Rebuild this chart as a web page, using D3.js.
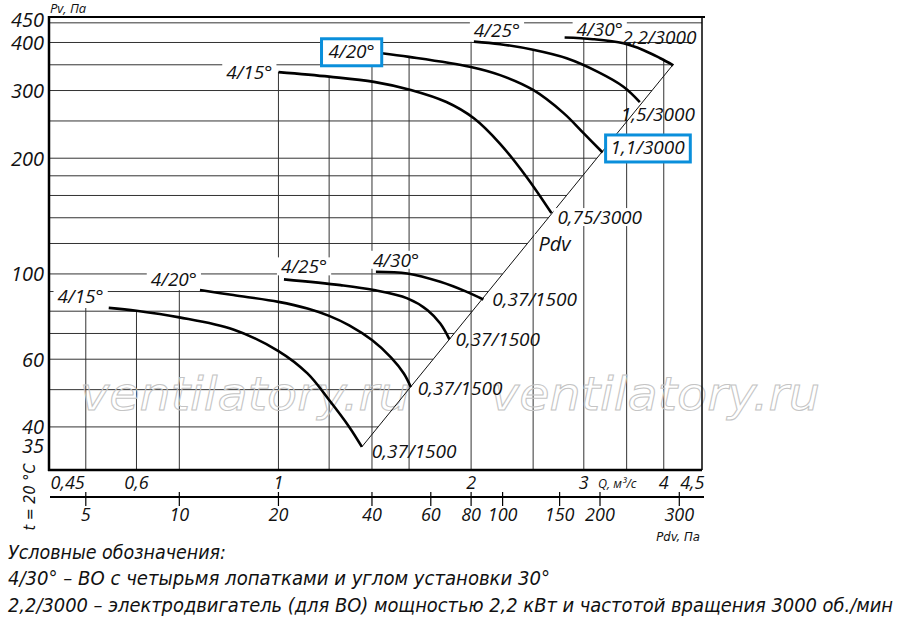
<!DOCTYPE html>
<html>
<head>
<meta charset="utf-8">
<script src="https://d3js.org/d3.v7.min.js"></script>
<style>
    body { margin: 0; background: #fff; }
    text { font-family: "Open Sans", "Noto Sans", sans-serif; font-style: italic; fill: #111; }
    .narrow { font-family: "Liberation Sans Narrow", "DejaVu Sans Condensed", "Liberation Sans", sans-serif; }
</style>
</head>
<body>
<div class="chart"></div>
<script>
// границы осей (Q, м3/с и Pv, Па)
var qDomain = [0.438, 4.59];
var pDomain = [30.9, 466];

// сетка и подписи осей
var gridQ = [0.5, 0.6, 0.7, 1.0, 1.2, 1.4, 1.6, 2.0, 2.5, 3.0, 3.5, 4.0];
var gridP = [40, 50, 60, 70, 80, 90, 100, 120, 140, 160, 180, 200, 250, 300, 350, 400, 450];
var pTicks = [450, 400, 300, 200, 100, 60, 40, 35];
var qTicks = [0.45, 0.6, 1, 2, 3, 4, 4.5];
var qTickText = ["0,45", "0,6", "1", "2", "3", "4", "4,5"];
var pdvTicks = [5, 10, 20, 40, 60, 80, 100, 150, 200, 300];
var pdvTickQ = [0.5, 0.7, 1.0, 1.4, 1.73, 2.0, 2.24, 2.75, 3.18, 4.23]; // где стоит отметка Pdv на шкале Q

// 3000 об/мин
var hi15Q = [1.0, 1.2, 1.41, 1.61, 1.83, 2.02, 2.22, 2.44, 2.67];
var hi15P = [335, 326, 316, 301, 280, 254, 218, 179, 144];
var hi20Q = [1.45, 1.6, 1.99, 2.22, 2.5, 2.79, 3.0, 3.21];
var hi20P = [375, 367, 346, 329, 301, 262, 232, 207];
var hi25Q = [2.02, 2.22, 2.5, 2.82, 3.15, 3.46, 3.67];
var hi25P = [402, 396, 383, 364, 336, 307, 280];
var hi30Q = [2.8, 3.1, 3.46, 3.72, 3.95, 4.14];
var hi30P = [412, 408, 398, 382, 364, 349];

// 1500 об/мин
var lo15Q = [0.543, 0.6, 0.7, 0.85, 1.0, 1.11, 1.2, 1.29, 1.35];
var lo15P = [81.6, 80.2, 77.1, 71.7, 63, 55.1, 47, 40, 35.5];
var lo20Q = [0.754, 0.85, 1.0, 1.11, 1.2, 1.29, 1.4, 1.5, 1.57, 1.61];
var lo20P = [90.8, 88.1, 84.6, 81.3, 77.8, 73.5, 67.3, 60.6, 55.1, 50.8];
var lo25Q = [1.02, 1.25, 1.41, 1.59, 1.71, 1.79, 1.85];
var lo25P = [96.8, 93.5, 90.8, 86.4, 80.5, 74.3, 67.6];
var lo30Q = [1.42, 1.59, 1.79, 1.97, 2.09];
var lo30P = [101.3, 100.3, 95.4, 89.8, 85.8];

// линия динамического давления Pdv
var diagQ = [1.35, 4.14];
var diagP = [35.5, 351];
var pdvLabelP = 120;

var angleNames = ["4/15°", "4/20°", "4/25°", "4/30°"];
var motorsHi = ["0,75/3000", "1,1/3000", "1,5/3000", "2,2/3000"];
var motorsLo = ["0,37/1500", "0,37/1500", "0,37/1500", "0,37/1500"];

var legend = [
    "Условные обозначения:",
    "4/30° – ВО с четырьмя лопатками и углом установки 30°",
    "2,2/3000 – электродвигатель (для ВО) мощностью 2,2 кВт и частотой вращения 3000 об./мин"
];

function zip(q, p) { return q.map(function(v, i) { return [v, p[i]]; }); }
var curvesHi = [zip(hi15Q, hi15P), zip(hi20Q, hi20P), zip(hi25Q, hi25P), zip(hi30Q, hi30P)];
var curvesLo = [zip(lo15Q, lo15P), zip(lo20Q, lo20P), zip(lo25Q, lo25P), zip(lo30Q, lo30P)];
var allCurves = curvesHi.concat(curvesLo);

var W = 900, H = 624;
var L = 49, R = 702, T = 17, B = 470;
var blue = "#0a8fdb";

var x = d3.scaleLog().domain(qDomain).range([L, R]);
var y = d3.scaleLog().domain(pDomain).range([B, T]);

var svg = d3.select("div.chart").append("svg")
    .attr("width", W).attr("height", H);

// прямая Pdv в пикселях: y -> x
var diagX = d3.scaleLinear()
    .domain([y(diagP[0]), y(diagP[1])])
    .range([x(diagQ[0]), x(diagQ[1])]);

// область под кривыми - по ней обрезаются вертикальные линии сетки
var area = d3.area()
    .x(function(d) { return x(d[0]); })
    .y0(B)
    .y1(function(d) { return y(d[1]); })
    .curve(d3.curveCatmullRom);
var clip = svg.append("defs").append("clipPath").attr("id", "vclip");
allCurves.forEach(function(c) {
    clip.append("path").attr("d", area(c));
    clip.append("rect")
        .attr("x", x(c[0][0] - 0.06))
        .attr("y", y(c[0][1]))
        .attr("width", x(c[0][0]) - x(c[0][0] - 0.06) + 1)
        .attr("height", B - y(c[0][1]));
});

var gGrid = svg.append("g");
var gMark = svg.append("g");
var gDiag = svg.append("g");
var gBg = svg.append("g");
var gCurve = svg.append("g");
var gText = svg.append("g");

gGrid.selectAll("line.h").data(gridP).enter().append("line")
    .attr("class", "h")
    .attr("x1", L)
    .attr("x2", function(d) { return Math.min(R, diagX(y(d))); })
    .attr("y1", function(d) { return y(d); })
    .attr("y2", function(d) { return y(d); })
    .attr("stroke", "#333").attr("stroke-width", 1);

gGrid.append("g").attr("clip-path", "url(#vclip)")
    .selectAll("line").data(gridQ).enter().append("line")
    .attr("x1", function(d) { return x(d); })
    .attr("x2", function(d) { return x(d); })
    .attr("y1", T).attr("y2", B)
    .attr("stroke", "#333").attr("stroke-width", 1);

// водяной знак
[80, 490].forEach(function(px) {
    gMark.append("text")
        .attr("x", px).attr("y", 410)
        .attr("textLength", 330).attr("lengthAdjust", "spacingAndGlyphs")
        .style("font-family", "'DejaVu Sans', sans-serif")
        .style("font-size", "46px")
        .style("fill", "none")
        .attr("stroke", "#c4c4c4").attr("stroke-width", 1)
        .text("ventilatory.ru");
});

gDiag.append("line")
    .attr("x1", x(diagQ[0])).attr("y1", y(diagP[0]))
    .attr("x2", x(diagQ[1])).attr("y2", y(diagP[1]))
    .attr("stroke", "#111").attr("stroke-width", 1);

var line = d3.line()
    .x(function(d) { return x(d[0]); })
    .y(function(d) { return y(d[1]); })
    .curve(d3.curveCatmullRom);

gCurve.selectAll("path").data(allCurves).enter().append("path")
    .attr("d", line)
    .attr("fill", "none")
    .attr("stroke", "#000")
    .attr("stroke-width", 2.6);

// подпись у точки; bg - белая подложка, box - синяя рамка
function label(px, py, txt, anchor, size, opt) {
    opt = opt || {};
    var t = gText.append("text")
        .attr("x", px).attr("y", py)
        .attr("text-anchor", anchor)
        .attr("dominant-baseline", "central")
        .style("font-size", size + "px")
        .text(txt);
    var b = t.node().getBBox();
    if (opt.bg) {
        gBg.append("rect")
            .attr("x", b.x - 4).attr("y", b.y + 4)
            .attr("width", b.width + 8).attr("height", b.height - 8)
            .attr("fill", "#fff");
    }
    if (opt.box) {
        gText.insert("rect", "text")
            .attr("x", b.x - opt.box).attr("y", b.y + 0.5)
            .attr("width", b.width + 2 * opt.box).attr("height", b.height + 1)
            .attr("fill", "#fff")
            .attr("stroke", blue).attr("stroke-width", 3);
    }
    return t;
}

function first(c) { return [x(c[0][0]), y(c[0][1])]; }
function last(c) { var d = c[c.length - 1]; return [x(d[0]), y(d[1])]; }

// 3000 об/мин: углы
var s;
s = first(curvesHi[0]); label(s[0] - 6, s[1], angleNames[0], "end", 19, {bg: true});
s = first(curvesHi[1]); label(s[0] - 7, s[1] - 2, angleNames[1], "end", 19, {box: 7});
s = first(curvesHi[2]); label(s[0], s[1] - 12, angleNames[2], "start", 19, {bg: true});
s = first(curvesHi[3]); label(s[0] + 12, s[1] - 9, angleNames[3], "start", 19, {bg: true});
// 3000 об/мин: двигатели
s = last(curvesHi[0]); label(s[0] + 6, s[1] + 4, motorsHi[0], "start", 19, {bg: true});
s = last(curvesHi[1]); label(s[0] + 8, s[1] - 5, motorsHi[1], "start", 19, {box: 5});
s = last(curvesHi[2]); label(s[0] - 19, s[1] + 12, motorsHi[2], "start", 19);
s = last(curvesHi[3]); label(s[0] - 51, s[1] - 28, motorsHi[3], "start", 19);

// 1500 об/мин
s = first(curvesLo[0]); label(s[0] - 5, s[1] - 12, angleNames[0], "end", 19, {bg: true});
s = first(curvesLo[1]); label(s[0] - 3, s[1] - 11, angleNames[1], "end", 19, {bg: true});
s = first(curvesLo[2]); label(s[0] - 3, s[1] - 13, angleNames[2], "start", 19, {bg: true});
s = first(curvesLo[3]); label(s[0] - 3, s[1] - 12, angleNames[3], "start", 19, {bg: true});
s = last(curvesLo[0]); label(s[0] + 10, s[1] + 4, motorsLo[0], "start", 19);
s = last(curvesLo[1]); label(s[0] + 7, s[1] + 1, motorsLo[1], "start", 19);
s = last(curvesLo[2]); label(s[0] + 6, s[1], motorsLo[2], "start", 19);
s = last(curvesLo[3]); label(s[0] + 9, s[1] - 1, motorsLo[3], "start", 19);

label(diagX(y(pdvLabelP)) + 11, y(pdvLabelP), "Pdv", "start", 20, {bg: true});

// рамка
var gFrame = svg.append("g").attr("stroke", "#000");
gFrame.append("line").attr("x1", L).attr("x2", L).attr("y1", T - 1).attr("y2", B + 1).attr("stroke-width", 2.5);
gFrame.append("line").attr("x1", L - 1).attr("x2", R).attr("y1", B).attr("y2", B).attr("stroke-width", 2.5);
gFrame.append("line").attr("x1", L).attr("x2", R + 3).attr("y1", T).attr("y2", T).attr("stroke-width", 2);
gFrame.append("line").attr("x1", R).attr("x2", R).attr("y1", T).attr("y2", B).attr("stroke-width", 1.5);

// ось Pv (крайние подписи на оригинале чуть сдвинуты вверх)
svg.append("g").selectAll("text").data(pTicks).enter().append("text")
    .attr("x", L - 5)
    .attr("y", function(d, i) {
        if (i === 0) return y(d) - 3;
        if (i === pTicks.length - 1) return y(d) - 4;
        return y(d);
    })
    .attr("text-anchor", "end")
    .attr("dominant-baseline", "central")
    .style("font-size", "20px")
    .text(function(d) { return d; });
svg.append("text").attr("x", L + 1).attr("y", 13)
    .style("font-size", "13px").text("Pv, Па");

// ось Q
svg.append("g").selectAll("text").data(qTicks).enter().append("text")
    .attr("x", function(d, i) {
        if (i === 0) return x(d) - 6;
        if (i === qTicks.length - 1) return x(d) + 8;
        return x(d);
    })
    .attr("y", 489)
    .attr("text-anchor", function(d, i) {
        return i === 0 ? "start" : (i === qTicks.length - 1 ? "end" : "middle");
    })
    .style("font-size", "18px")
    .text(function(d, i) { return qTickText[i]; });
svg.append("text").attr("x", 598).attr("y", 488)
    .style("font-size", "12.5px").text("Q, м³/с");

// шкала Pdv
svg.append("line").attr("x1", L + 1).attr("x2", R + 2).attr("y1", 497).attr("y2", 497)
    .attr("stroke", "#000").attr("stroke-width", 2);
var gPdv = svg.append("g");
gPdv.selectAll("line").data(pdvTicks).enter().append("line")
    .attr("x1", function(d, i) { return x(pdvTickQ[i]); })
    .attr("x2", function(d, i) { return x(pdvTickQ[i]); })
    .attr("y1", 492).attr("y2", 506)
    .attr("stroke", "#000").attr("stroke-width", 1.2);
gPdv.selectAll("text").data(pdvTicks).enter().append("text")
    .attr("x", function(d, i) { return x(pdvTickQ[i]); })
    .attr("y", 521)
    .attr("text-anchor", "middle")
    .style("font-size", "18px")
    .text(function(d) { return d; });
svg.append("text").attr("class", "narrow").attr("x", 700).attr("y", 541)
    .attr("text-anchor", "end").style("font-size", "13px").text("Pdv, Па");

svg.append("text").attr("class", "narrow")
    .attr("transform", "translate(35,497) rotate(-90)")
    .attr("text-anchor", "middle")
    .style("font-size", "16px")
    .text("t = 20 °C");

// условные обозначения
var legendY = [559, 585, 612];
var legendW = [218, 542, 885];
svg.append("g").selectAll("text").data(legend).enter().append("text")
    .attr("class", "narrow")
    .attr("x", 8)
    .attr("y", function(d, i) { return legendY[i]; })
    .attr("textLength", function(d, i) { return legendW[i]; })
    .attr("lengthAdjust", "spacingAndGlyphs")
    .style("font-size", "20px")
    .text(function(d) { return d; });
</script>
</body>
</html>
